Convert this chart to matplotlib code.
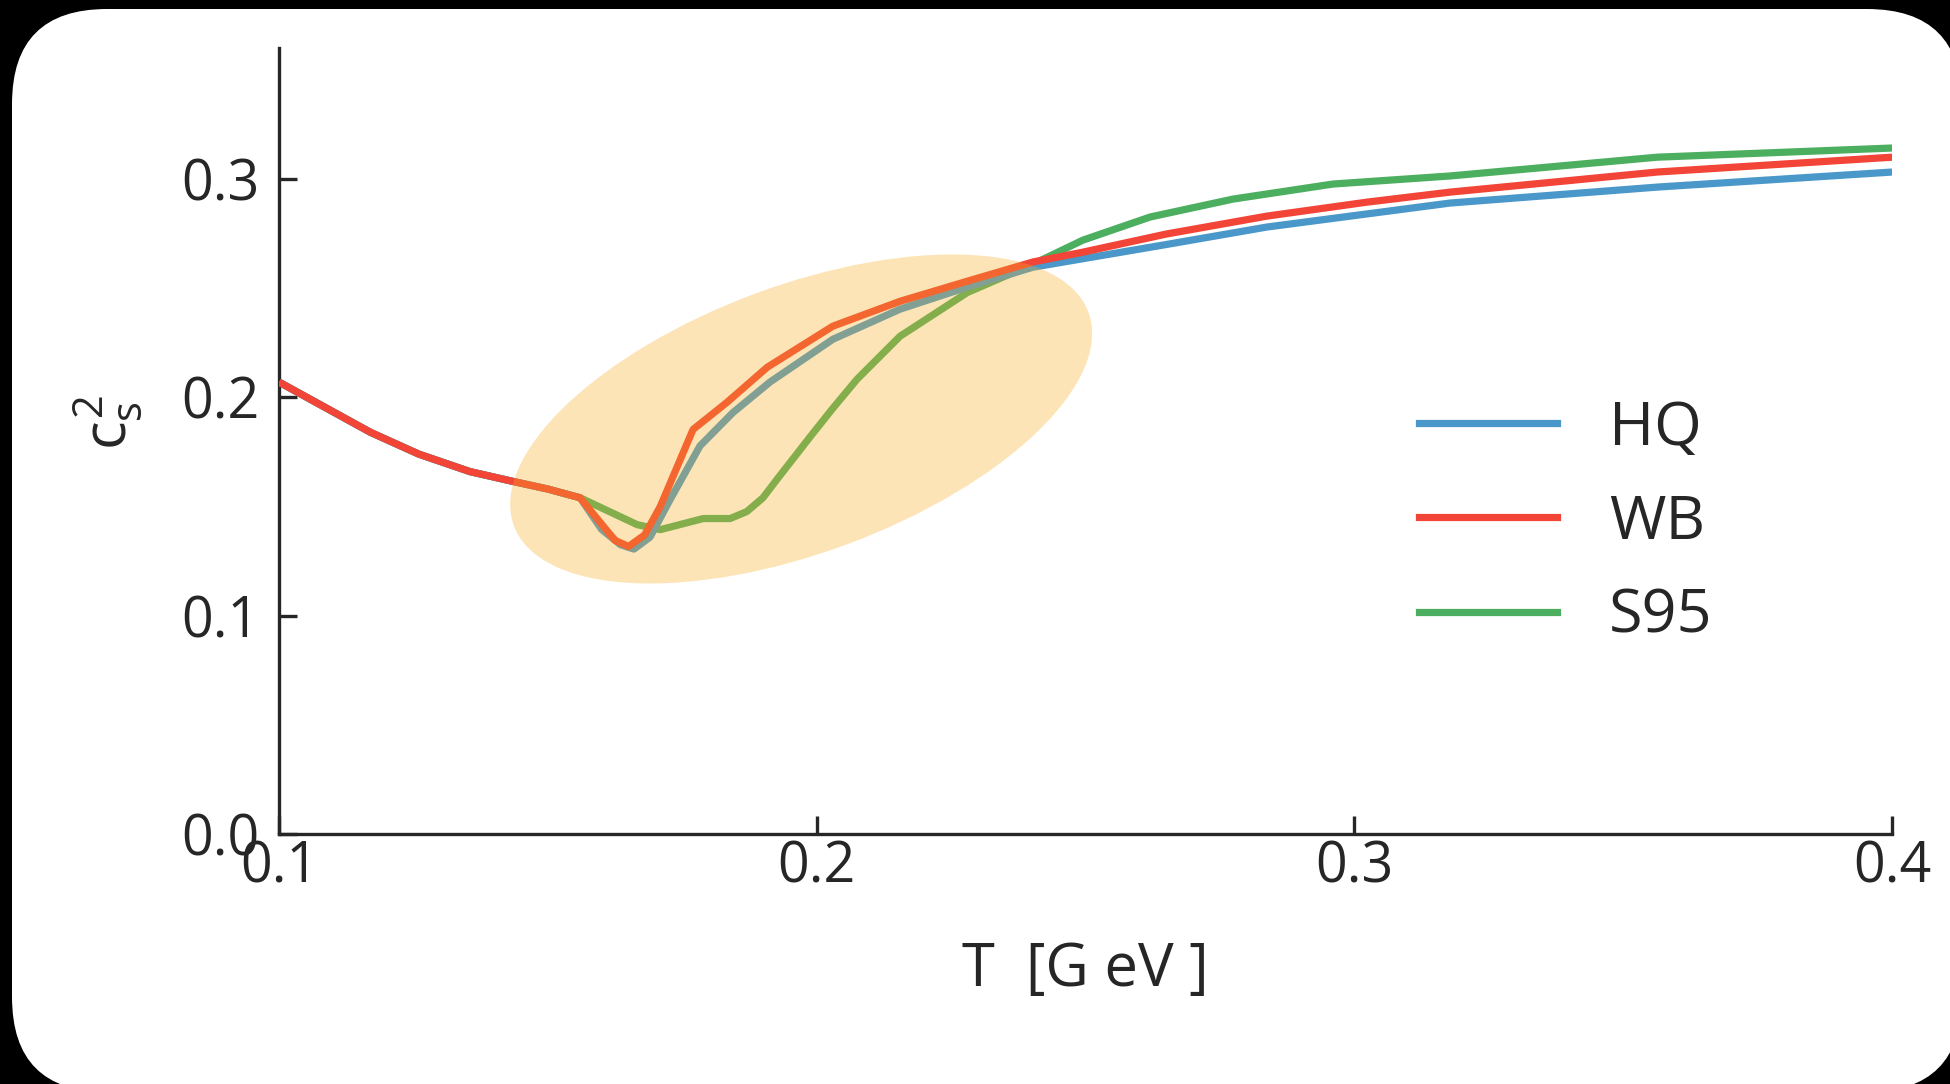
import numpy as np
import matplotlib
matplotlib.use('Agg')
import matplotlib.pyplot as plt
from matplotlib.patches import Ellipse, FancyBboxPatch
from matplotlib.lines import Line2D
import matplotlib.transforms as mtransforms

plt.rcParams['font.family'] = ['Open Sans', 'DejaVu Sans']
plt.rcParams['mathtext.fontset'] = 'custom'
plt.rcParams['mathtext.rm'] = 'Open Sans'
plt.rcParams['mathtext.it'] = 'Open Sans'

# speed of sound squared vs temperature
T_hq = [0.100, 0.117, 0.126, 0.1355, 0.1435, 0.150, 0.156, 0.160, 0.1635, 0.166, 0.169,
        0.1727, 0.1783, 0.1844, 0.1913, 0.203, 0.2155, 0.228, 0.2402, 0.2495, 0.265,
        0.2837, 0.3023, 0.3178, 0.3563, 0.400]
cs2_hq = [0.207, 0.184, 0.174, 0.166, 0.1615, 0.158, 0.154, 0.1395, 0.1325, 0.1305, 0.136,
          0.153, 0.1778, 0.193, 0.207, 0.2266, 0.2404, 0.2505, 0.2596, 0.2635, 0.270,
          0.278, 0.284, 0.289, 0.2963, 0.3032]

T_wb = [0.100, 0.117, 0.126, 0.1355, 0.1435, 0.150, 0.156, 0.1603, 0.1625, 0.165, 0.168,
        0.1709, 0.177, 0.1833, 0.1908, 0.203, 0.2155, 0.228, 0.2402, 0.2495, 0.265,
        0.2837, 0.3023, 0.3178, 0.3563, 0.400]
cs2_wb = [0.207, 0.184, 0.174, 0.166, 0.1615, 0.158, 0.154, 0.141, 0.1345, 0.1317, 0.137,
          0.150, 0.1853, 0.1977, 0.2138, 0.2326, 0.244, 0.2532, 0.262, 0.2665, 0.2748,
          0.283, 0.2894, 0.294, 0.3032, 0.310]

T_s95 = [0.100, 0.117, 0.126, 0.1355, 0.1435, 0.150, 0.156, 0.1666, 0.1709, 0.1789, 0.1839,
         0.187, 0.190, 0.1926, 0.1988, 0.203, 0.2075, 0.2155, 0.228, 0.2402, 0.2495, 0.262,
         0.2774, 0.296, 0.3178, 0.3563, 0.400]
cs2_s95 = [0.207, 0.184, 0.174, 0.166, 0.1615, 0.158, 0.154, 0.1417, 0.1394, 0.1445, 0.1445,
           0.1477, 0.154, 0.1624, 0.182, 0.195, 0.2083, 0.228, 0.248, 0.261, 0.272, 0.2826,
           0.2908, 0.2977, 0.3014, 0.310, 0.3142]

c_hq, c_wb, c_s95 = '#4a98c9', '#f24437', '#4caf5f'
ink = '#262626'

fig = plt.figure(figsize=(19.5, 10.84), dpi=100, facecolor='black')

# white rounded card on black
card = FancyBboxPatch((0.12, -0.08), 19.5, 10.83,
                      boxstyle='round,pad=0,rounding_size=0.95',
                      transform=fig.dpi_scale_trans, facecolor='white',
                      edgecolor='none', zorder=0)
fig.add_artist(card)

ax = fig.add_axes([0.1431, 0.2306, 0.8272, 0.7251])
ax.set_facecolor('none')

ax.plot(T_s95, cs2_s95, color=c_s95, lw=5.2, solid_capstyle='butt', zorder=2)
ax.plot(T_hq, cs2_hq, color=c_hq, lw=5.2, solid_capstyle='butt', zorder=3)
ax.plot(T_wb, cs2_wb, color=c_wb, lw=5.2, solid_capstyle='butt', zorder=4)

# highlight around the crossover region (shape in inches, centre in data units)
ell_center = (0.1971, 0.1901)
ell_w, ell_h, ell_angle = 6.13, 2.67, 20.4
ell_tr = fig.dpi_scale_trans + mtransforms.ScaledTranslation(ell_center[0], ell_center[1], ax.transData)
ax.add_patch(Ellipse((0, 0), ell_w, ell_h, angle=ell_angle, transform=ell_tr,
                     facecolor='#f9ae21', edgecolor='none', alpha=0.32, zorder=5))

ax.set_xlim(0.1, 0.4)
ax.set_ylim(0, 0.36)
ax.set_xticks([0.1, 0.2, 0.3, 0.4])
ax.set_yticks([0.0, 0.1, 0.2, 0.3])
ax.set_xticklabels(['0.1', '0.2', '0.3', '0.4'])
ax.set_yticklabels(['0.0', '0.1', '0.2', '0.3'])

for s in ['top', 'right']:
    ax.spines[s].set_visible(False)
for s in ['left', 'bottom']:
    ax.spines[s].set_linewidth(2.4)
    ax.spines[s].set_color(ink)

ax.tick_params(direction='in', length=13, width=2.4, color=ink, labelcolor=ink, labelsize=40)
ax.tick_params(axis='y', pad=14)
ax.tick_params(axis='x', pad=4)

ax.set_xlabel('T  [G eV ]', fontsize=43, color=ink)
ax.xaxis.set_label_coords(0.5, -0.135)
ax.set_ylabel(r'$c_s^2$', fontsize=43, color=ink)
ax.yaxis.set_label_coords(-0.084, 0.523)

handles = [Line2D([], [], color=c_hq, lw=5.2),
           Line2D([], [], color=c_wb, lw=5.2),
           Line2D([], [], color=c_s95, lw=5.2)]
ax.legend(handles, ['HQ', 'WB', 'S95'], loc='center left', bbox_to_anchor=(0.707, 0.396),
          frameon=False, fontsize=44, handlelength=2.25, handletextpad=0.85,
          labelspacing=0.56, borderpad=0, borderaxespad=0, labelcolor=ink)

fig.savefig('out.png', dpi=100, facecolor='black')
